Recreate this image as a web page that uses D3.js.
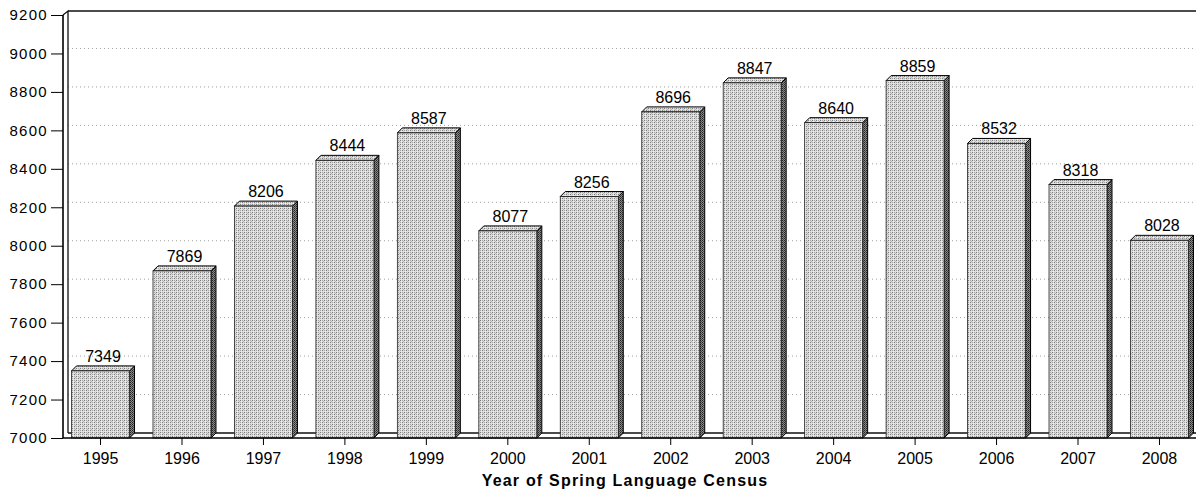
<!DOCTYPE html>
<html>
<head>
<meta charset="utf-8">
<script src="https://cdn.jsdelivr.net/npm/d3@7"></script>
<style>
  html, body { margin: 0; padding: 0; background: #fff; }
  svg { display: block; font-family: "Liberation Sans", Arial, sans-serif; }
</style>
</head>
<body>
<svg id="chart" width="1196" height="491"></svg>
<script>
const years = ["1995","1996","1997","1998","1999","2000","2001","2002","2003","2004","2005","2006","2007","2008"];
const values = [7349, 7869, 8206, 8444, 8587, 8077, 8256, 8696, 8847, 8640, 8859, 8532, 8318, 8028];
const yTicks = [7000, 7200, 7400, 7600, 7800, 8000, 8200, 8400, 8600, 8800, 9000, 9200];
const xTitle = "Year of Spring Language Census";

const W = 1196, H = 491;
const depth = 5;
const svg = d3.select("#chart");

const x = d3.scaleBand().domain(years).range([59.8, 1200.2]).paddingInner(0.288).paddingOuter(0.144);
const y = d3.scaleLinear().domain([7000, 9200]).range([438, 15]);

// patterns to mimic dithered fills
const defs = svg.append("defs");
const pf = defs.append("pattern").attr("id", "front").attr("width", 4).attr("height", 4).attr("patternUnits", "userSpaceOnUse");
pf.append("rect").attr("width", 4).attr("height", 4).attr("fill", "#dcdcdc");
[[0,0,"#7c7c7c"],[2,2,"#7c7c7c"],[2,0,"#a8a8a8"],[0,2,"#a8a8a8"],[1,3,"#f0f0f0"],[3,1,"#b8b8b8"],[1,1,"#eeeeee"]].forEach(p =>
  pf.append("rect").attr("x", p[0]).attr("y", p[1]).attr("width", 1).attr("height", 1).attr("fill", p[2]));
const ps = defs.append("pattern").attr("id", "side").attr("width", 2).attr("height", 2).attr("patternUnits", "userSpaceOnUse");
ps.append("rect").attr("width", 2).attr("height", 2).attr("fill", "#8a8a8a");
ps.append("rect").attr("x", 0).attr("y", 0).attr("width", 1).attr("height", 1).attr("fill", "#222");
ps.append("rect").attr("x", 1).attr("y", 1).attr("width", 1).attr("height", 1).attr("fill", "#444");

const x0 = 63, right = W;
const yBase = y(7000);

// back-wall gridlines
svg.append("g").selectAll("line").data(yTicks.filter(t => t > 7000 && t < 9200)).join("line")
  .attr("x1", x0 + depth).attr("x2", right)
  .attr("y1", d => y(d) - depth).attr("y2", d => y(d) - depth)
  .attr("stroke", "#a0a0a0").attr("stroke-width", 1).attr("stroke-dasharray", "1,3");

// frame: top edge of back wall, left wall, floor
const frame = svg.append("g").attr("fill", "none").attr("stroke", "#111");
frame.append("line").attr("x1", x0 + depth).attr("x2", right).attr("y1", y(9200) - depth + 1).attr("y2", y(9200) - depth + 1).attr("stroke-width", 1.6);
frame.append("path").attr("d", `M${x0},${y(9200)}L${x0 + depth},${y(9200) - depth + 1}L${x0 + depth},${yBase - depth}`).attr("stroke-width", 1.3);
frame.append("line").attr("x1", x0 + depth).attr("x2", right).attr("y1", yBase - depth).attr("y2", yBase - depth).attr("stroke-width", 1.6);

// bars
const bars = svg.append("g").selectAll("g").data(years.map((yr, i) => ({yr, v: values[i]}))).join("g");
bars.append("path") // side
  .attr("d", d => {
    const bx = x(d.yr) + x.bandwidth(), ty = y(d.v);
    return `M${bx},${ty}L${bx + depth},${ty - depth}L${bx + depth},${yBase - depth}L${bx},${yBase}Z`;
  })
  .attr("fill", "url(#side)").attr("stroke", "#000").attr("stroke-width", 1);
bars.append("path") // top
  .attr("d", d => {
    const bx = x(d.yr), ty = y(d.v), bw = x.bandwidth();
    return `M${bx},${ty}L${bx + depth},${ty - depth}L${bx + bw + depth},${ty - depth}L${bx + bw},${ty}Z`;
  })
  .attr("fill", "url(#front)").attr("stroke", "#000").attr("stroke-width", 1);
bars.append("rect") // front
  .attr("x", d => x(d.yr)).attr("y", d => y(d.v))
  .attr("width", x.bandwidth()).attr("height", d => yBase - y(d.v))
  .attr("fill", "url(#front)").attr("stroke", "#222").attr("stroke-width", 0.8);
bars.append("text")
  .attr("x", d => x(d.yr) + x.bandwidth() / 2 + depth / 2)
  .attr("y", d => y(d.v) - depth - 4)
  .attr("text-anchor", "middle").attr("font-size", 16).attr("fill", "#000")
  .text(d => d.v);

// floor front edge (x axis)
const xAxis = svg.append("g").attr("transform", `translate(0,${yBase})`)
  .call(d3.axisBottom(x).tickSize(7).tickPadding(8));
xAxis.select(".domain").remove();
xAxis.append("line").attr("x1", x0).attr("x2", right).attr("y1", 0).attr("y2", 0).attr("stroke", "#000").attr("stroke-width", 1.6);
xAxis.selectAll(".tick line").attr("stroke", "#000");
xAxis.selectAll(".tick text").attr("font-size", 16).attr("fill", "#000").attr("font-family", "Liberation Sans, Arial, sans-serif");

// y axis
const yAxis = svg.append("g").attr("transform", `translate(${x0},0)`)
  .call(d3.axisLeft(y).tickValues(yTicks).tickFormat(d3.format("d")).tickSize(12).tickPadding(3));
yAxis.select(".domain").attr("d", `M0,${y(9200)}V${yBase}`).attr("stroke", "#000").attr("stroke-width", 1.6);
yAxis.selectAll(".tick line").attr("stroke", "#000");
yAxis.selectAll(".tick text").attr("font-size", 15).attr("letter-spacing", 1.3).attr("fill", "#000").attr("font-family", "Liberation Sans, Arial, sans-serif");

// axis title
svg.append("text").attr("x", 625).attr("y", 486).attr("text-anchor", "middle")
  .attr("font-size", 16).attr("font-weight", "bold").attr("letter-spacing", 1.2).attr("fill", "#000")
  .text(xTitle);
</script>
</body>
</html>
